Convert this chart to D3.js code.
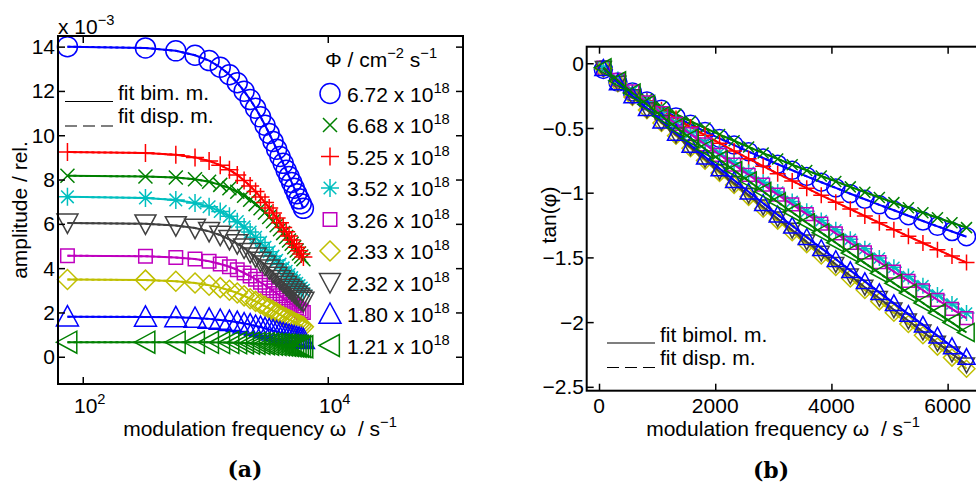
<!DOCTYPE html>
<html>
<head>
<meta charset="utf-8">
<script src="https://cdn.jsdelivr.net/npm/d3@7"></script>
<style>
  body { margin: 0; background: #fff; }
  text { font-family: "Liberation Sans", Arial, sans-serif; fill: #000; }
</style>
</head>
<body>
<div id="chart"></div>
<script>
"use strict";
//modulation frequency omega / s^-1, same grid for every flux
var omega = [75, 325, 575, 825, 1075, 1325, 1575, 1825, 2075, 2325, 2575, 2825, 3075,
  3325, 3575, 3825, 4075, 4325, 4575, 4825, 5075, 5325, 5575, 5825, 6075, 6325];

//photon flux labels (x 10^18 cm^-2 s^-1)
var fluxLabels = ["6.72", "6.68", "5.25", "3.52", "3.26", "2.33", "2.32", "1.80", "1.21"];

//amplitude / rel. (units of 1e-3), panel (a)
var amp672 = [14.00, 13.94, 13.81, 13.61, 13.37, 13.07, 12.73, 12.37, 11.99, 11.61, 11.22, 10.83, 10.45, 10.08, 9.72, 9.37, 9.04, 8.73, 8.42, 8.14, 7.87, 7.61, 7.36, 7.13, 6.91, 6.70];
var amp668 = [8.17, 8.14, 8.09, 8.01, 7.90, 7.76, 7.61, 7.45, 7.27, 7.09, 6.89, 6.70, 6.51, 6.31, 6.12, 5.94, 5.76, 5.58, 5.41, 5.25, 5.10, 4.94, 4.80, 4.66, 4.53, 4.40];
var amp525 = [9.24, 9.20, 9.12, 9.00, 8.84, 8.65, 8.44, 8.21, 7.96, 7.71, 7.46, 7.21, 6.96, 6.72, 6.49, 6.26, 6.05, 5.84, 5.64, 5.45, 5.27, 5.10, 4.94, 4.79, 4.64, 4.50];
var amp352 = [7.22, 7.17, 7.08, 6.94, 6.77, 6.56, 6.34, 6.10, 5.86, 5.63, 5.39, 5.16, 4.94, 4.74, 4.54, 4.35, 4.18, 4.01, 3.86, 3.71, 3.57, 3.44, 3.32, 3.21, 3.10, 3.00];
var amp326 = [4.56, 4.54, 4.48, 4.41, 4.31, 4.19, 4.06, 3.93, 3.78, 3.64, 3.50, 3.36, 3.23, 3.10, 2.98, 2.86, 2.75, 2.65, 2.55, 2.46, 2.37, 2.29, 2.21, 2.14, 2.07, 2.00];
var amp233 = [3.49, 3.46, 3.41, 3.33, 3.23, 3.12, 3.00, 2.88, 2.75, 2.62, 2.50, 2.39, 2.28, 2.18, 2.08, 1.99, 1.90, 1.82, 1.75, 1.68, 1.62, 1.56, 1.50, 1.45, 1.40, 1.35];
var amp232 = [6.04, 6.00, 5.92, 5.81, 5.66, 5.49, 5.30, 5.11, 4.91, 4.71, 4.51, 4.32, 4.14, 3.96, 3.80, 3.64, 3.49, 3.36, 3.23, 3.10, 2.99, 2.88, 2.78, 2.68, 2.59, 2.51];
var amp180 = [1.81, 1.80, 1.78, 1.75, 1.71, 1.66, 1.61, 1.56, 1.50, 1.45, 1.39, 1.34, 1.28, 1.23, 1.18, 1.14, 1.09, 1.05, 1.01, 0.98, 0.94, 0.91, 0.88, 0.85, 0.82, 0.79];
var amp121 = [0.66, 0.66, 0.66, 0.65, 0.65, 0.64, 0.64, 0.63, 0.62, 0.61, 0.60, 0.60, 0.59, 0.57, 0.56, 0.55, 0.54, 0.53, 0.52, 0.51, 0.50, 0.49, 0.48, 0.47, 0.46, 0.45];

//tan(phi), panel (b)
var tan672 = [-0.048, -0.145, -0.222, -0.291, -0.355, -0.415, -0.472, -0.528, -0.581, -0.632, -0.683, -0.732, -0.780, -0.827, -0.874, -0.919, -0.963, -1.008, -1.051, -1.094, -1.136, -1.178, -1.219, -1.260, -1.300, -1.340];
var tan668 = [-0.046, -0.137, -0.210, -0.276, -0.336, -0.393, -0.448, -0.500, -0.551, -0.599, -0.647, -0.694, -0.739, -0.784, -0.828, -0.871, -0.913, -0.955, -0.996, -1.037, -1.077, -1.116, -1.155, -1.194, -1.232, -1.270];
var tan525 = [-0.041, -0.135, -0.216, -0.290, -0.360, -0.427, -0.492, -0.556, -0.618, -0.678, -0.737, -0.795, -0.853, -0.909, -0.965, -1.020, -1.073, -1.127, -1.180, -1.233, -1.286, -1.337, -1.389, -1.440, -1.490, -1.540];
var tan352 = [-0.033, -0.126, -0.212, -0.296, -0.378, -0.458, -0.537, -0.615, -0.692, -0.768, -0.844, -0.919, -0.995, -1.068, -1.143, -1.215, -1.287, -1.360, -1.433, -1.505, -1.577, -1.648, -1.719, -1.790, -1.860, -1.930];
var tan326 = [-0.033, -0.128, -0.217, -0.302, -0.386, -0.468, -0.548, -0.627, -0.707, -0.784, -0.862, -0.938, -1.015, -1.090, -1.166, -1.240, -1.314, -1.388, -1.462, -1.536, -1.610, -1.682, -1.754, -1.828, -1.898, -1.970];
var tan233 = [-0.040, -0.154, -0.260, -0.362, -0.462, -0.560, -0.657, -0.752, -0.847, -0.940, -1.032, -1.124, -1.216, -1.306, -1.397, -1.485, -1.574, -1.663, -1.752, -1.840, -1.928, -2.015, -2.102, -2.189, -2.274, -2.360];
var tan232 = [-0.039, -0.152, -0.257, -0.358, -0.456, -0.553, -0.648, -0.742, -0.836, -0.928, -1.019, -1.110, -1.201, -1.289, -1.380, -1.466, -1.554, -1.642, -1.730, -1.816, -1.904, -1.990, -2.075, -2.162, -2.245, -2.330];
var tan180 = [-0.038, -0.148, -0.250, -0.348, -0.445, -0.539, -0.632, -0.723, -0.814, -0.904, -0.993, -1.081, -1.170, -1.256, -1.344, -1.429, -1.514, -1.600, -1.685, -1.770, -1.855, -1.938, -2.021, -2.106, -2.188, -2.270];
var tan121 = [-0.035, -0.136, -0.229, -0.319, -0.407, -0.494, -0.579, -0.662, -0.746, -0.828, -0.910, -0.991, -1.072, -1.151, -1.232, -1.309, -1.387, -1.466, -1.544, -1.622, -1.700, -1.776, -1.852, -1.930, -2.004, -2.080];

//tick labels
var ampTicks = [0, 2, 4, 6, 8, 10, 12, 14];
var freqLogTicks = [100, 10000];
var tanTicks = [0, -0.5, -1, -1.5, -2, -2.5];
var freqLinTicks = [0, 2000, 4000, 6000];

//matlab default colours / markers, in legend order
var colors = ["#0000ff", "#008000", "#ff0000", "#00bfbf", "#bf00bf", "#bfbf00", "#404040", "#0000ff", "#008000"];
var markers = ["o", "x", "+", "*", "s", "d", "v", "^", "<"];

var ampSeries = [amp672, amp668, amp525, amp352, amp326, amp233, amp232, amp180, amp121];
var tanSeries = [tan672, tan668, tan525, tan352, tan326, tan233, tan232, tan180, tan121];

var W = 976, H = 489, FS = 21;

var svg = d3.select("#chart").append("svg")
  .attr("width", W)
  .attr("height", H);

//marker outline, s is half the marker extent
function markerPath(type, s) {
  var k;
  switch (type) {
    case "o":
      return "M" + s + ",0A" + s + "," + s + " 0 1,1 " + -s + ",0A" + s + "," + s + " 0 1,1 " + s + ",0Z";
    case "x":
      return "M" + -s + "," + -s + "L" + s + "," + s + "M" + -s + "," + s + "L" + s + "," + -s;
    case "+":
      return "M" + -s + ",0H" + s + "M0," + -s + "V" + s;
    case "*":
      k = s * 0.7;
      return "M" + -s + ",0H" + s + "M0," + -s + "V" + s +
        "M" + -k + "," + -k + "L" + k + "," + k + "M" + -k + "," + k + "L" + k + "," + -k;
    case "s":
      k = s * 0.75;
      return "M" + -k + "," + -k + "H" + k + "V" + k + "H" + -k + "Z";
    case "d":
      return "M0," + -s + "L" + s + ",0L0," + s + "L" + -s + ",0Z";
    case "v":
      return "M" + -s + "," + -s * 0.85 + "H" + s + "L0," + s + "Z";
    case "^":
      return "M" + -s + "," + s * 0.85 + "H" + s + "L0," + -s + "Z";
    case "<":
      return "M" + s * 0.85 + "," + -s + "V" + s + "L" + -s + ",0Z";
  }
}

//text with superscripts, parts = [[string, isSup], ...]
function richText(g, x, y, parts, size, anchor) {
  var t = g.append("text")
    .attr("x", x)
    .attr("y", y)
    .attr("font-size", size)
    .attr("text-anchor", anchor || "start")
    .style("white-space", "pre");
  var up = false;
  parts.forEach(function(p) {
    var ts = t.append("tspan").text(p[0]);
    if (p[1] && !up) {
      ts.attr("dy", -size * 0.42).attr("font-size", size * 0.7);
      up = true;
    } else if (p[1]) {
      ts.attr("font-size", size * 0.7);
    } else if (up) {
      ts.attr("dy", size * 0.42);
      up = false;
    }
  });
  return t;
}

function drawSeries(g, x, y, ys, i, msize) {
  var pts = omega.map(function(w, j) { return [x(w), y(ys[j])]; });
  var line = d3.line();
  //fit bimolecular model (solid) and dispersive model (dashed)
  g.append("path")
    .attr("d", line(pts))
    .attr("fill", "none")
    .attr("stroke", colors[i])
    .attr("stroke-width", 2);
  g.append("path")
    .attr("d", line(pts))
    .attr("fill", "none")
    .attr("stroke", colors[i])
    .attr("stroke-width", 2)
    .attr("stroke-dasharray", "3,3");
  g.selectAll(null)
    .data(pts)
    .enter()
    .append("path")
    .attr("transform", function(d) { return "translate(" + d[0] + "," + d[1] + ")"; })
    .attr("d", markerPath(markers[i], msize[markers[i]]))
    .attr("fill", "none")
    .attr("stroke", colors[i])
    .attr("stroke-width", 1.5);
}

function frame(g, x0, y0, x1, y1) {
  g.append("rect")
    .attr("x", x0)
    .attr("y", y0)
    .attr("width", x1 - x0)
    .attr("height", y1 - y0)
    .attr("fill", "none")
    .attr("stroke", "#000")
    .attr("stroke-width", 2);
}

function tickLines(g, axis, tx, ty) {
  var a = g.append("g")
    .attr("transform", "translate(" + tx + "," + ty + ")")
    .call(axis.tickSize(-7).tickSizeOuter(0).tickFormat(""));
  a.select(".domain").remove();
  a.selectAll(".tick line").attr("stroke", "#000").attr("stroke-width", 1.5);
}

function legendFits(g, x0, y0, labels) {
  g.append("line")
    .attr("x1", x0).attr("x2", x0 + 48)
    .attr("y1", y0 + 1.5).attr("y2", y0 + 1.5)
    .attr("stroke", "#000").attr("stroke-width", 1.2);
  g.append("line")
    .attr("x1", x0).attr("x2", x0 + 48)
    .attr("y1", y0 + 26).attr("y2", y0 + 26)
    .attr("stroke", "#000").attr("stroke-width", 1.2)
    .attr("stroke-dasharray", "12,6");
  g.append("text").attr("x", x0 + 53).attr("y", y0).attr("font-size", FS).text(labels[0]);
  g.append("text").attr("x", x0 + 53).attr("y", y0 + 23).attr("font-size", FS).text(labels[1]);
}

// ---------- panel (a): amplitude vs log frequency ----------
var xA = d3.scaleLog().domain([62.8, 127000]).range([58, 463]);
var yA = d3.scaleLinear().domain([-1.23, 14.48]).range([384, 36]);
var gA = svg.append("g");

var sizeA = { "o": 10, "x": 7, "+": 9, "*": 9, "s": 9, "d": 10, "v": 10.5, "^": 11, "<": 11 };
ampSeries.forEach(function(ys, i) {
  drawSeries(gA, xA, yA, ys, i, sizeA);
});

tickLines(gA, d3.axisBottom(xA).tickValues(freqLogTicks), 0, 384);
tickLines(gA, d3.axisTop(xA).tickValues(freqLogTicks), 0, 36);
tickLines(gA, d3.axisLeft(yA).tickValues(ampTicks), 58, 0);
tickLines(gA, d3.axisRight(yA).tickValues(ampTicks), 463, 0);
frame(gA, 58, 36, 463, 384);

ampTicks.forEach(function(t) {
  gA.append("text")
    .attr("x", 55).attr("y", yA(t)).attr("dy", "0.36em")
    .attr("text-anchor", "end").attr("font-size", FS)
    .text(t);
});
freqLogTicks.forEach(function(t) {
  richText(gA, xA(t) + 7, 413, [["10", false], [String(Math.log10(t)), true]], FS, "middle");
});
richText(gA, 58, 34, [["x 10", false], ["\u22123", true]], FS, "start");

gA.append("text")
  .attr("transform", "translate(27,210) rotate(-90)")
  .attr("text-anchor", "middle").attr("font-size", FS)
  .text("amplitude / rel.");
richText(gA, 260, 436, [["modulation frequency \u03c9\u00a0 / s", false], ["\u22121", true]], FS, "middle");

legendFits(gA, 65, 100, ["fit bim. m.", "fit disp. m."]);

//flux legend
richText(gA, 325, 67, [["\u03a6 / cm", false], ["\u22122", true], [" s", false], ["\u22121", true]], FS, "start");
fluxLabels.forEach(function(lab, i) {
  var ly = 93.5 + i * 31.5;
  gA.append("path")
    .attr("transform", "translate(330," + ly + ")")
    .attr("d", markerPath(markers[i], sizeA[markers[i]]))
    .attr("fill", "none")
    .attr("stroke", colors[i])
    .attr("stroke-width", 1.5);
  richText(gA, 347, ly + 8, [[lab + " x 10", false], ["18", true]], FS, "start");
});

svg.append("text")
  .attr("x", 245).attr("y", 477)
  .attr("text-anchor", "middle")
  .attr("font-size", 22).attr("font-weight", "bold")
  .style("font-family", "'DejaVu Serif', 'Liberation Serif', serif")
  .text("(a)");

// ---------- panel (b): tan(phi) vs linear frequency ----------
var xB = d3.scaleLinear().domain([-212, 6700]).range([586.7, 988.3]);
var yB = d3.scaleLinear().domain([-2.53, 0.128]).range([390.7, 46.7]);
var gB = svg.append("g");

var sizeB = { "o": 9, "x": 5.5, "+": 8, "*": 8, "s": 8.5, "d": 8.5, "v": 8, "^": 8.5, "<": 9 };
tanSeries.forEach(function(ys, i) {
  drawSeries(gB, xB, yB, ys, i, sizeB);
});

tickLines(gB, d3.axisBottom(xB).tickValues(freqLinTicks), 0, 390.7);
tickLines(gB, d3.axisTop(xB).tickValues(freqLinTicks), 0, 46.7);
tickLines(gB, d3.axisLeft(yB).tickValues(tanTicks), 586.7, 0);
frame(gB, 586.7, 46.7, 988.3, 390.7);

tanTicks.forEach(function(t) {
  gB.append("text")
    .attr("x", 584).attr("y", yB(t)).attr("dy", "0.36em")
    .attr("text-anchor", "end").attr("font-size", FS)
    .text(t === 0 ? "0" : "\u2212" + String(-t));
});
freqLinTicks.forEach(function(t) {
  gB.append("text")
    .attr("x", xB(t)).attr("y", 413)
    .attr("text-anchor", "middle").attr("font-size", FS)
    .text(t);
});

gB.append("text")
  .attr("transform", "translate(556,215) rotate(-90)")
  .attr("text-anchor", "middle").attr("font-size", FS)
  .text("tan(\u03c6)");
richText(gB, 783, 436, [["modulation frequency \u03c9\u00a0 / s", false], ["\u22121", true]], FS, "middle");

legendFits(gB, 607, 341.5, ["fit bimol. m.", "fit disp. m."]);

svg.append("text")
  .attr("x", 771).attr("y", 478)
  .attr("text-anchor", "middle")
  .attr("font-size", 22).attr("font-weight", "bold")
  .style("font-family", "'DejaVu Serif', 'Liberation Serif', serif")
  .text("(b)");
</script>
</body>
</html>
